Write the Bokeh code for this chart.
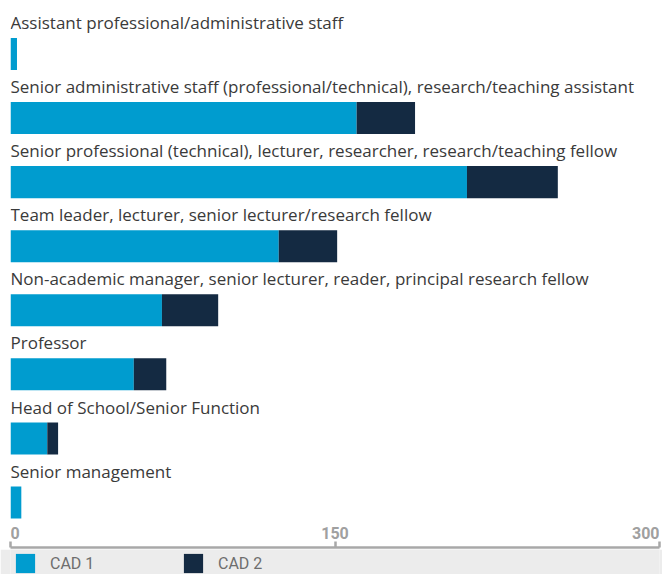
from bokeh.plotting import figure
from bokeh.layouts import column
from bokeh.models import ColumnDataSource, Range1d, FixedTicker, Legend, LegendItem
from bokeh.core.properties import value
from bokeh.embed import file_html
from bokeh.resources import INLINE

categories = [
    "Assistant professional/administrative staff",
    "Senior administrative staff (professional/technical), research/teaching assistant",
    "Senior professional (technical), lecturer, researcher, research/teaching fellow",
    "Team leader, lecturer, senior lecturer/research fellow",
    "Non-academic manager, senior lecturer, reader, principal research fellow",
    "Professor",
    "Head of School/Senior Function",
    "Senior management",
]
cad1 = [3, 160, 211, 124, 70, 57, 17, 5]
cad2 = [0, 27, 42, 27, 26, 15, 5, 0]
series_names = ["CAD 1", "CAD 2"]
colors = ["#009ccf", "#142a42"]
tick_values = [0, 150, 300]
tick_aligns = ["left", "center", "right"]

FONT = "Open Sans"
pos = list(range(len(categories)))
pitch = 64.07
frame_h = 547
top_off = 53.5
label_shift = 0.49

src = ColumnDataSource(dict(
    y=pos,
    cad1=cad1,
    total=[a + b for a, b in zip(cad1, cad2)],
    label_y=[p - label_shift for p in pos],
    label_x=[0] * len(pos),
    name=categories,
))

p = figure(width=662, height=549, output_backend="svg", toolbar_location=None,
           x_range=Range1d(0, 300),
           y_range=Range1d(start=(frame_h - top_off) / pitch, end=-top_off / pitch),
           min_border_left=10, min_border_right=3, min_border_top=0, min_border_bottom=2)
p.outline_line_color = None
p.grid.visible = False
p.yaxis.visible = False
p.background_fill_color = "white"
p.border_fill_color = "white"

p.hbar(y="y", left=0, right="cad1", height=0.5, source=src, color=colors[0], line_color=None)
p.hbar(y="y", left="cad1", right="total", height=0.5, source=src, color=colors[1], line_color=None)
p.text(x="label_x", y="label_y", text="name", source=src,
       text_font=value(FONT), text_font_size="17px", text_color="#3a3a3a",
       text_baseline="alphabetic", text_align="left")

# x axis: line and ticks from Bokeh, labels drawn above the line
xa = p.xaxis[0]
xa.ticker = FixedTicker(ticks=tick_values)
xa.axis_line_color = "#a8a8a8"
xa.axis_line_width = 2.5
xa.major_tick_line_color = "#a8a8a8"
xa.major_tick_line_width = 2.5
xa.major_tick_in = 6
xa.major_tick_out = 0
xa.minor_tick_line_color = None
xa.major_label_text_font_size = "1px"
xa.major_label_text_color = None
xa.major_label_standoff = 0

tsrc = ColumnDataSource(dict(
    x=tick_values,
    y=[(532 - top_off) / pitch] * len(tick_values),
    t=[str(v) for v in tick_values],
    align=tick_aligns,
))
p.text(x="x", y="y", text="t", source=tsrc, text_align="align",
       text_font=value("Roboto"), text_font_style="bold", text_font_size="16px",
       text_color="#a0a0a0", text_baseline="alphabetic")

# legend band
q = figure(width=662, height=25, output_backend="svg", toolbar_location=None,
           x_range=Range1d(0, 300), y_range=Range1d(100, 101),
           min_border_left=0, min_border_right=0, min_border_top=0, min_border_bottom=0)
q.axis.visible = False
q.grid.visible = False
q.outline_line_color = None
q.background_fill_color = "#ececec"
q.border_fill_color = "#ececec"
r1 = q.hbar(y="y", left=0, right="cad1", height=0.5, source=src, color=colors[0],
            line_color=None, visible=False)
r2 = q.hbar(y="y", left="cad1", right="total", height=0.5, source=src, color=colors[1],
            line_color=None, visible=False)
leg = Legend(items=[LegendItem(label=series_names[0], renderers=[r1]),
                    LegendItem(label=series_names[1], renderers=[r2])],
             orientation="horizontal", location=(3, -1),
             glyph_width=24, glyph_height=24, label_standoff=13, label_width=131,
             spacing=0, padding=0, margin=0,
             label_text_font="Roboto", label_text_font_size="16px",
             label_text_color="#6e6e6e",
             background_fill_alpha=0, border_line_color=None)
q.add_layout(leg, "center")

layout = column(p, q, spacing=0)
open("out.html", "w").write(file_html(layout, INLINE))
